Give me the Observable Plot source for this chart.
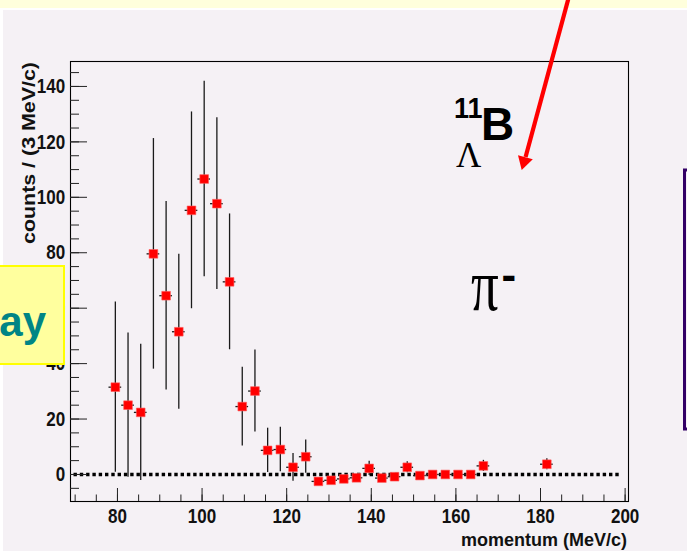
<!DOCTYPE html>
<html>
<head>
<meta charset="utf-8">
<script src="https://cdn.jsdelivr.net/npm/d3@7"></script>
<script src="https://cdn.jsdelivr.net/npm/@observablehq/plot@0.6"></script>
<style>
  html, body { margin: 0; padding: 0; }
  body { width: 687px; height: 551px; position: relative; overflow: hidden; background: #f5f1f5;
         font-family: "Liberation Sans", Arial, sans-serif; }
  #topband { position: absolute; left: 0; top: 0; width: 687px; height: 8px; background: #ffffdc; }
  #whiteline { position: absolute; left: 0; top: 8px; width: 687px; height: 2px; background: #ffffff; }
  #leftline { position: absolute; left: 0; top: 8px; width: 3px; height: 543px; background: #ffffff; }
  #chart { position: absolute; left: 0; top: 0; }
  #overlay { position: absolute; left: 0; top: 0; }
</style>
</head>
<body>
<div id="topband"></div>
<div id="whiteline"></div>
<div id="leftline"></div>
<div id="chart"></div>
<svg id="overlay" width="687" height="551" font-family="'Liberation Sans', Arial, sans-serif">
  <rect x="-4" y="266" width="68" height="98" fill="#ffff9e" stroke="#ffff00" stroke-width="2"></rect>
  <text x="46" y="336" text-anchor="end" font-size="42" font-weight="bold" fill="#008585">ay</text>
  <rect x="684.5" y="170" width="20" height="259" fill="none" stroke="#330066" stroke-width="3"></rect>
  <line x1="570.2" y1="-8" x2="525.6" y2="157" stroke="#ff0000" stroke-width="4.2"></line>
  <polygon points="521.7,170 532.8,159.3 518.0,155.2" fill="#ff0000"></polygon>
</svg>
<script>
// bin centres (MeV/c), counts per 3 MeV/c bin, and statistical errors
const momentum = [79.5, 82.5, 85.5, 88.5, 91.5, 94.5, 97.5, 100.5, 103.5, 106.5,
                  109.5, 112.5, 115.5, 118.5, 121.5, 124.5, 127.5, 130.5, 133.5, 136.5,
                  139.5, 142.5, 145.5, 148.5, 151.5, 154.5, 157.5, 160.5, 163.5, 166.5, 181.5];
const counts   = [31.5, 25.0, 22.4, 79.6, 64.5, 51.5, 95.3, 106.6, 97.7, 69.5,
                  24.5, 30.1, 8.7, 9.0, 2.6, 6.4, -2.5, -2.1, -1.6, -1.2,
                  2.2, -1.3, -0.8, 2.6, -0.4, 0, 0, 0, 0, 3.1, 3.7];
const errors   = [30.7, 26.0, 24.6, 41.6, 34.0, 28.0, 35.5, 35.3, 31.0, 24.5,
                  14.2, 14.8, 8.0, 8.0, 5.0, 6.0, 1.0, 1.0, 1.0, 1.0,
                  2.6, 1.0, 1.0, 2.0, 0.5, 0, 0, 0, 0, 2.0, 2.0];
const binHalf = 1.5;

const xTicks = [80, 100, 120, 140, 160, 180, 200];
const xMinor = [70, 75, 80, 85, 90, 95, 100, 105, 110, 115, 120, 125, 130, 135, 140, 145,
                150, 155, 160, 165, 170, 175, 180, 185, 190, 195, 200];
const yTicks = [0, 20, 40, 60, 80, 100, 120, 140];
const yMinor = [-5, 0, 5, 10, 15, 20, 25, 30, 35, 40, 45, 50, 55, 60, 65, 70, 75, 80,
                85, 90, 95, 100, 105, 110, 115, 120, 125, 130, 135, 140, 145];

const xTitle = "momentum (MeV/c)";
const yTitle = "counts / (3 MeV/c)";

const data = momentum.map((m, i) => ({m, c: counts[i], e: errors[i]}));

const chart = Plot.plot({
  width: 687,
  height: 551,
  marginLeft: 70,
  marginRight: 59,
  marginTop: 61,
  marginBottom: 50,
  x: {domain: [68.9, 200.8]},
  y: {domain: [-9.75, 149]},
  style: {background: "transparent", fontFamily: "'Liberation Sans', Arial, sans-serif", color: "#111"},
  marks: [
    Plot.ruleY([0], {stroke: "#000", strokeWidth: 3.6, strokeDasharray: "3.4 2.9", insetLeft: 3.5, insetRight: 8}),
    Plot.ruleX(data, {x: "m", y1: d => d.c - d.e, y2: d => d.c + d.e, stroke: "#1a1a1a", strokeWidth: 1.3}),
    Plot.ruleY(data, {y: "c", x1: d => d.m - binHalf, x2: d => d.m + binHalf, stroke: "#1a1a1a", strokeWidth: 1.3}),
    Plot.dot(data, {x: "m", y: "c", symbol: "square", r: 4.9, fill: "#ff0000", stroke: "#ff5c5c", strokeWidth: 0.6}),
    Plot.frame({stroke: "#000", strokeWidth: 1.1}),
    Plot.axisY({ticks: yMinor, tickSize: -9, tickFormat: () => "", label: null, stroke: "#222"}),
    Plot.axisY({ticks: yTicks, tickSize: -17, tickPadding: 22.3, fontSize: 18.5, fontWeight: "bold", label: null, stroke: "#222", fill: "#111"}),
    Plot.axisX({ticks: xMinor, tickSize: -6.5, tickFormat: () => "", label: null, stroke: "#222"}),
    Plot.axisX({ticks: xTicks, tickSize: -13, tickPadding: 20, fontSize: 18.5, fontWeight: "bold", label: null, stroke: "#222", fill: "#111"})
  ]
});

document.getElementById("chart").appendChild(chart);

const svg = d3.select(chart);
const ff = "'Liberation Sans', Arial, sans-serif";
const serif = "'Liberation Serif', 'Times New Roman', serif";

// ROOT-style tick labels: large, bold, slightly tall and narrow
svg.selectAll('[aria-label$="tick label"]')
  .attr("font-size", 18.5).attr("font-weight", "bold").attr("font-family", ff)
  .style("font-size", "18.5px");
svg.selectAll('[aria-label$="tick label"] text').each(function () {
  const t = this.getAttribute("transform") || "";
  this.setAttribute("transform", t + " scale(0.92,1.12)");
});

// axis titles
svg.append("text")
  .attr("x", 627).attr("y", 546)
  .attr("text-anchor", "end")
  .attr("font-family", ff).attr("font-size", 18).attr("font-weight", "bold")
  .attr("fill", "#111")
  .text(xTitle);

svg.append("text")
  .attr("transform", "translate(34.5,62) rotate(-90)")
  .attr("text-anchor", "end")
  .attr("font-family", ff).attr("font-size", 18.5).attr("font-weight", "bold")
  .attr("fill", "#111")
  .attr("textLength", 182).attr("lengthAdjust", "spacingAndGlyphs")
  .text(yTitle);

// annotations: hypernucleus label and pion label
function label(x, y, txt, family, size, weight, sy) {
  svg.append("text")
    .attr("transform", `translate(${x},${y}) scale(1,${sy || 1})`)
    .attr("text-anchor", "start")
    .attr("font-family", family).attr("font-size", size).attr("font-weight", weight)
    .attr("fill", "#000")
    .text(txt);
}
label(454, 118, "11", ff, 27, "bold", 1.12);
label(481, 140, "B", ff, 46, "bold");
label(456, 167, "Λ", serif, 35, "normal");
label(471, 310, "π", serif, 55, "normal", 1.35);
label(501.5, 290, "-", ff, 44, "bold");
</script>
</body>
</html>
